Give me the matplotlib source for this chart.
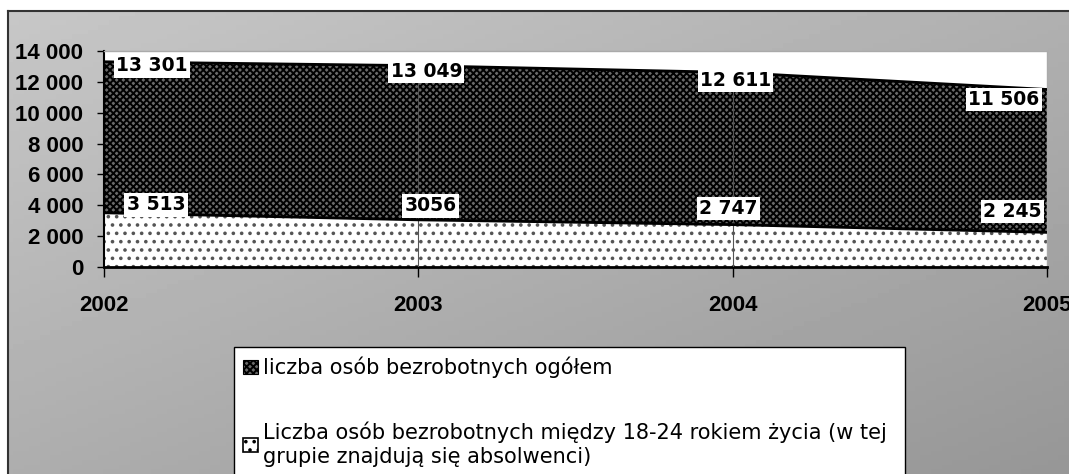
import numpy as np
import matplotlib.pyplot as plt
from matplotlib.patches import Patch
from matplotlib.ticker import FuncFormatter

# dane
years = [2002, 2003, 2004, 2005]
total = [13301, 13049, 12611, 11506]
young = [3513, 3056, 2747, 2245]
total_labels = ["13 301", "13 049", "12 611", "11 506"]
young_labels = ["3 513", "3056", "2 747", "2 245"]
legend_labels = ["liczba osób bezrobotnych ogółem",
                 "Liczba osób bezrobotnych między 18-24 rokiem życia (w tej\ngrupie znajdują się absolwenci)"]

W, H = 1069, 474
fig = plt.figure(figsize=(W / 100, H / 100), dpi=100)
fig.patch.set_facecolor("white")

# szare tlo z gradientem
bg = fig.add_axes([8 / W, 0, 1 - 8 / W, 1 - 11 / H])
gx, gy = np.meshgrid(np.linspace(0, 1, 200), np.linspace(0, 1, 100))
grad = 0.78 - 0.09 * gx - 0.10 * gy
bg.imshow(grad, cmap="gray", vmin=0, vmax=1, aspect="auto", extent=[0, 1, 0, 1])
bg.set_xticks([])
bg.set_yticks([])
for s in ["left", "top"]:
    bg.spines[s].set_color("#333333")
    bg.spines[s].set_linewidth(1.5)
for s in ["right", "bottom"]:
    bg.spines[s].set_visible(False)

ax = fig.add_axes([104 / W, 1 - 267 / H, (1047 - 104) / W, (267 - 51) / H])
ax.set_facecolor("white")

plt.rcParams["hatch.linewidth"] = 1.4
ax.fill_between(years, 0, total, facecolor="#6a6a6a", edgecolor="black",
                hatch="xxxxx", linewidth=0, zorder=1)
ax.fill_between(years, 0, young, facecolor="white", edgecolor="#555555",
                hatch="..", linewidth=0, zorder=2)
ax.vlines(years[1:3], 0, total[1:3], color="#555555", lw=0.8, zorder=3)
ax.plot(years, total, color="black", lw=2, zorder=3)
ax.plot(years, young, color="black", lw=2, zorder=3)

lab_font = dict(family="DejaVu Sans", weight="bold", fontsize=13.5)
box = dict(boxstyle="square,pad=0.12", fc="white", ec="none")
t_off = [(48, -4), (8, -6), (3, -8), (-43, -10)]
y_off = [(52, 8), (12, 14), (-4, 16), (-35, 21)]
for x, v, s, o in zip(years, total, total_labels, t_off):
    ax.annotate(s, (x, v), xytext=o, textcoords="offset pixels", ha="center",
                va="center", bbox=box, zorder=5, **lab_font)
for x, v, s, o in zip(years, young, young_labels, y_off):
    ax.annotate(s, (x, v), xytext=o, textcoords="offset pixels", ha="center",
                va="center", bbox=box, zorder=5, **lab_font)

ax.set_xlim(2002, 2005)
ax.set_ylim(0, 14000)
ax.set_xticks(years)
ax.set_yticks(range(0, 14001, 2000))
ax.yaxis.set_major_formatter(FuncFormatter(lambda v, p: f"{int(v):,}".replace(",", " ")))
tick_font = dict(family="Liberation Sans", weight="bold", size=16)
for lbl in ax.get_xticklabels() + ax.get_yticklabels():
    lbl.set_fontproperties(tick_font)
ax.tick_params(axis="x", direction="out", length=7, width=1, pad=13)
ax.tick_params(axis="y", direction="out", length=5, width=1, pad=10)
ax.spines["left"].set_linewidth(1.5)
ax.spines["bottom"].set_linewidth(2)
for s in ["top", "right"]:
    ax.spines[s].set_color("#aaaaaa")
    ax.spines[s].set_linewidth(1)

handles = [Patch(facecolor="#6a6a6a", edgecolor="black", hatch="xxxxx", lw=0.8),
           Patch(facecolor="white", edgecolor="black", hatch="..", lw=1.2)]
leg = fig.legend(handles, legend_labels, loc="upper left",
                 bbox_to_anchor=(234 / W, 1 - 352 / H, (905 - 234) / W, 0.01),
                 mode="expand", fancybox=False, framealpha=1, edgecolor="black",
                 prop=dict(family="DejaVu Sans", size=15), labelspacing=2.1,
                 handlelength=0.7, handleheight=0.7, handletextpad=0.25,
                 borderpad=0.45, borderaxespad=0)
leg.get_frame().set_linewidth(1)

fig.savefig("out.png", dpi=100)
